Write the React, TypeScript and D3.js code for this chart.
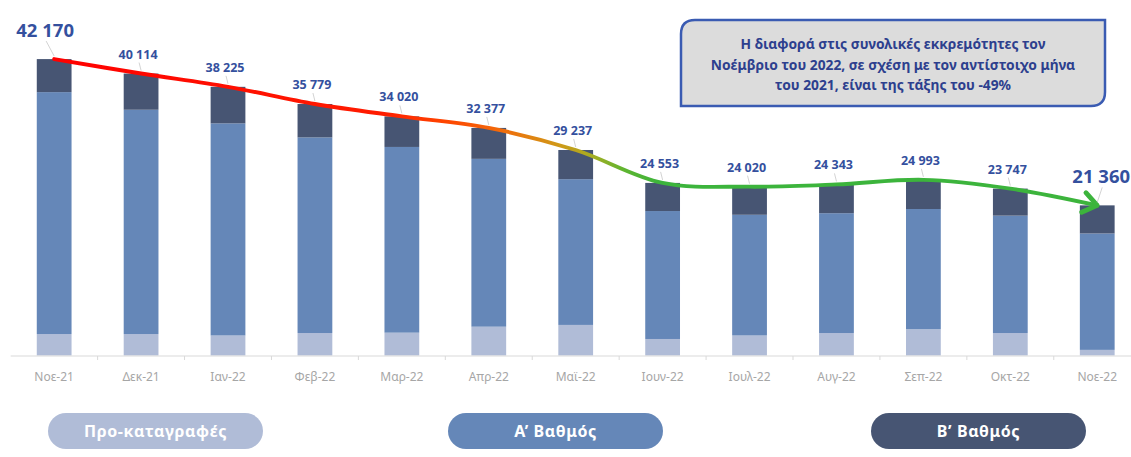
import React, { useEffect, useMemo, useRef } from 'react'
import * as d3 from 'd3'

const WIDTH = 1131
const HEIGHT = 457

// month labels on the x axis
const months = ['Νοε-21', 'Δεκ-21', 'Ιαν-22', 'Φεβ-22', 'Μαρ-22', 'Απρ-22', 'Μαϊ-22',
  'Ιουν-22', 'Ιουλ-22', 'Αυγ-22', 'Σεπ-22', 'Οκτ-22', 'Νοε-22']

// stacked series, bottom to top
const preReg = [3050, 3050, 2850, 3200, 3250, 4100, 4350, 2350, 2850, 3200, 3750, 3200, 800]
const gradeA = [34420, 31914, 30175, 27829, 26420, 23877, 20737, 18203, 17170, 17043, 17093, 16697, 16560]
const gradeB = [4700, 5150, 5200, 4750, 4350, 4400, 4150, 4000, 4000, 4100, 4150, 3850, 4000]

// totals shown above the bars
const totals = [42170, 40114, 38225, 35779, 34020, 32377, 29237, 24553, 24020, 24343, 24993, 23747, 21360]

const seriesNames = ['Προ-καταγραφές', 'Α’ Βαθμός', 'Β’ Βαθμός']
const seriesColors = ['#b0bcd7', '#6587b8', '#475573']

const noteLines = [
  'Η διαφορά στις συνολικές εκκρεμότητες τον',
  'Νοέμβριο του 2022, σε σχέση με τον αντίστοιχο μήνα',
  'του 2021, είναι της τάξης του -49%',
]

const FONT = '"Noto Sans", "Open Sans", sans-serif'
const BASE_Y = 355.5

const fmt = (v: number) => d3.format(',')(v).replace(/,/g, ' ')

export default function App() {
  const axisRef = useRef<SVGGElement>(null)

  const xScale = useMemo(() =>
    d3.scaleBand<string>()
      .domain(months)
      .range([10.7, 1140.7])
      .paddingInner(0.6)
      .paddingOuter(0.3), [])

  const yScale = useMemo(() =>
    d3.scaleLinear()
      .domain([0, 45000])
      .range([BASE_Y, BASE_Y - 316.3]), [])

  const data = months.map((m, i) => ({ m, pre: preReg[i], a: gradeA[i], b: gradeB[i] }))
  const stacked = d3.stack<any>().keys(['pre', 'a', 'b'])(data)

  const cx = (m: string) => (xScale(m) || 0) + xScale.bandwidth() / 2

  useEffect(() => {
    const g = d3.select(axisRef.current)
    g.selectAll('*').remove()
    const axis = d3.axisBottom(xScale).tickSize(0).tickPadding(16)
    g.attr('transform', `translate(0,${BASE_Y + 0.5})`).call(axis)
    g.select('.domain').attr('stroke', '#d9d9d9').attr('stroke-width', 1)
      .attr('d', `M10.7,0H${WIDTH}`)
    g.selectAll('.tick text')
      .attr('fill', '#a6a6a6')
      .attr('font-size', 12)
      .attr('font-family', FONT)
    // separators between categories
    const step = xScale.step()
    g.selectAll('.sep')
      .data(months.slice(0, -1))
      .enter()
      .append('line')
      .attr('class', 'sep')
      .attr('x1', (d) => (xScale(d) || 0) + xScale.bandwidth() / 2 + step / 2)
      .attr('x2', (d) => (xScale(d) || 0) + xScale.bandwidth() / 2 + step / 2)
      .attr('y1', 0)
      .attr('y2', 4)
      .attr('stroke', '#d9d9d9')
  }, [xScale])

  const points: [number, number][] = months.map((m, i) => [cx(m), yScale(totals[i])])
  const linePath = d3.line().curve(d3.curveCatmullRom.alpha(0.5))(points) || ''

  const x0 = points[0][0]
  const x1 = points[points.length - 1][0]
  const off = (x: number) => `${((x - x0) / (x1 - x0)) * 100}%`
  const gradStops: [number, string][] = [
    [x0, '#ff0000'], [380, '#ff1c00'], [440, '#ff4200'], [500, '#f26a0a'],
    [560, '#cf9a18'], [592, '#a6ad22'], [625, '#5db531'], [660, '#3cb43c'], [x1, '#3cb43c'],
  ]

  // legend pills
  const legendX = [48, 448, 871]

  // note box with two rounded corners
  const bx = 681, by = 20, bw = 424, bh = 86, r = 14
  const boxPath = `M${bx + r},${by} H${bx + bw} V${by + bh - r} Q${bx + bw},${by + bh} ${bx + bw - r},${by + bh}
    H${bx} V${by + r} Q${bx},${by} ${bx + r},${by} Z`

  return (
    <svg width={WIDTH} height={HEIGHT} style={{ position: 'absolute', left: 0, top: 0, background: '#fff' }}
      fontFamily={FONT}>
      <defs>
        <linearGradient id="trend" gradientUnits="userSpaceOnUse" x1={x0} x2={x1} y1={0} y2={0}>
          {gradStops.map(([x, c], i) => <stop key={i} offset={off(x)} stopColor={c} />)}
        </linearGradient>
        <marker id="arrow" markerUnits="userSpaceOnUse" markerWidth={30} markerHeight={30}
          refX={0} refY={0} viewBox="-16 -12 20 24" orient="auto">
          <path d="M-11,-8 L0,0 L-11,8" fill="none" stroke="#3cb43c" strokeWidth={3.8}
            strokeLinecap="round" strokeLinejoin="round" />
        </marker>
      </defs>

      {/* bars */}
      {stacked.map((s, si) => (
        <g key={si} fill={seriesColors[si]}>
          {s.map((d, i) => (
            <rect key={i}
              x={xScale(months[i])}
              width={xScale.bandwidth()}
              y={yScale(d[1])}
              height={yScale(d[0]) - yScale(d[1])} />
          ))}
        </g>
      ))}

      <g ref={axisRef} />

      {/* trend line */}
      <path d={linePath} fill="none" stroke="url(#trend)" strokeWidth={3.9} strokeLinecap="round"
        markerEnd="url(#arrow)" />

      {/* total labels with leader lines */}
      {totals.map((t, i) => {
        const first = i === 0
        const last = i === totals.length - 1
        const big = first || last
        const x = points[i][0]
        const y = points[i][1]
        const ly = y - (big ? 22 : 15)
        const lx = first ? x - 9 : last ? x + 4 : x - 3
        return (
          <g key={i}>
            <line x1={lx + 1} y1={ly + 4} x2={x} y2={y - 3} stroke="#c8c8c8" strokeWidth={0.8} />
            <text x={lx} y={ly} textAnchor="middle" fill="#34509e" fontWeight="bold"
              fontSize={big ? 18.5 : 12.5}>
              {fmt(t)}
            </text>
          </g>
        )
      })}

      {/* note */}
      <path d={boxPath} fill="#dcdcdc" stroke="#3a5bb2" strokeWidth={2.5} />
      {noteLines.map((l, i) => (
        <text key={i} x={bx + bw / 2} y={by + 29 + i * 20.5} textAnchor="middle" fill="#2d3f8e"
          fontWeight="bold" fontSize={13.8}>
          {l}
        </text>
      ))}

      {/* legend */}
      {seriesNames.map((n, i) => (
        <g key={i} transform={`translate(${legendX[i]},413)`}>
          <rect width={215} height={36} rx={18} fill={seriesColors[i]} />
          <text x={107.5} y={24} textAnchor="middle" fill="#fff" fontWeight="bold" fontSize={16}
            letterSpacing={0.6}>
            {n}
          </text>
        </g>
      ))}
    </svg>
  )
}
